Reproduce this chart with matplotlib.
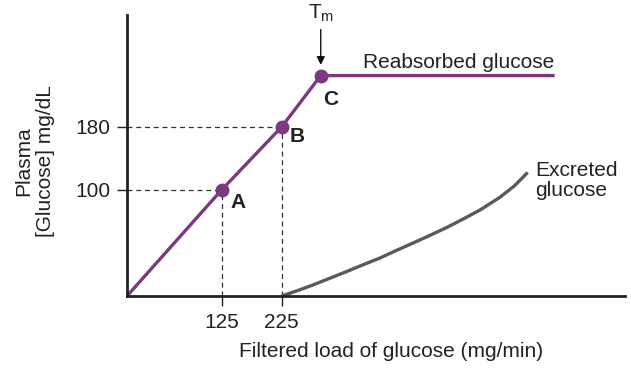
import matplotlib.pyplot as plt

plt.rcParams['font.family'] = ['Liberation Sans', 'DejaVu Sans']

# filtered load vs plasma glucose (schematic titration curve)
x0, y0 = -33, -35
load_pts = [x0, 125, 225, 290, 680]
reabsorbed_pts = [y0, 100, 180, 245, 245]

point_names = ['A', 'B', 'C']
point_x = [125, 225, 290]
point_y = [100, 180, 245]

excreted_x = [225, 250, 277, 305, 333, 360, 388, 415, 443, 472, 500, 528, 555, 588, 613, 635]
excreted_y = [y0, -28.5, -21, -12.5, -4, 4.5, 13, 22.5, 32, 42, 52, 63, 74, 90, 105, 122]

x_ticks = [125, 225]
y_ticks = [100, 180]

purple = '#7b3a7e'
grey = '#5a5a5a'
ink = '#222222'

fig = plt.figure(figsize=(6.31, 3.68), dpi=100)
ax = fig.add_axes([0.2013, 0.1957, 0.789, 0.7636])
ax.set_xlim(x0, 797)
ax.set_ylim(y0, 322)

for s in ['top', 'right']:
    ax.spines[s].set_visible(False)
for s in ['left', 'bottom']:
    ax.spines[s].set_linewidth(2.0)
    ax.spines[s].set_color(ink)

ax.set_xticks(x_ticks)
ax.set_yticks(y_ticks)
ax.tick_params(length=7, width=1, labelsize=15, colors=ink, pad=5)

# guide lines down to the axes
for px, py in zip(point_x[:2], point_y[:2]):
    ax.plot([x0, px], [py, py], ls=(0, (4, 3)), color='#333333', lw=0.9)
    ax.plot([px, px], [y0, py], ls=(0, (4, 3)), color='#333333', lw=0.9)

ax.plot(load_pts, reabsorbed_pts, color=purple, lw=2.4, solid_capstyle='butt', clip_on=False)
ax.plot(point_x, point_y, 'o', color=purple, markersize=9, clip_on=False)
ax.plot(excreted_x, excreted_y, color=grey, lw=2.4, solid_capstyle='butt',
        solid_joinstyle='round', clip_on=False)

offsets = [(6, -9), (6, -7), (2, -17)]
for name, px, py, off in zip(point_names, point_x, point_y, offsets):
    ax.annotate(name, (px, py), xytext=off, textcoords='offset points',
                fontsize=15, fontweight='bold', color=ink, ha='left', va='center')

ax.annotate('', xy=(point_x[2], point_y[2] + 10), xytext=(point_x[2], point_y[2] + 62),
            arrowprops=dict(arrowstyle='-|>', color='#111111', lw=1, mutation_scale=12))
ax.text(point_x[2], point_y[2] + 66, r'T$_\mathregular{m}$', fontsize=15, ha='center', va='bottom',
        color=ink)

ax.text(360, 255, 'Reabsorbed glucose', fontsize=15, ha='left', va='baseline', color=ink)
ax.text(648, 136, 'Excreted\nglucose', fontsize=15, ha='left', va='top', color=ink,
        linespacing=1.05)

ax.set_xlabel('Filtered load of glucose (mg/min)', fontsize=15, color=ink)
ax.xaxis.set_label_coords(0.53, -0.165)
fig.text(0.055, 0.5625, 'Plasma\n[Glucose] mg/dL', rotation=90, fontsize=15, ha='center',
         va='center', color=ink, linespacing=1.2)

fig.savefig('out.png', dpi=100)
